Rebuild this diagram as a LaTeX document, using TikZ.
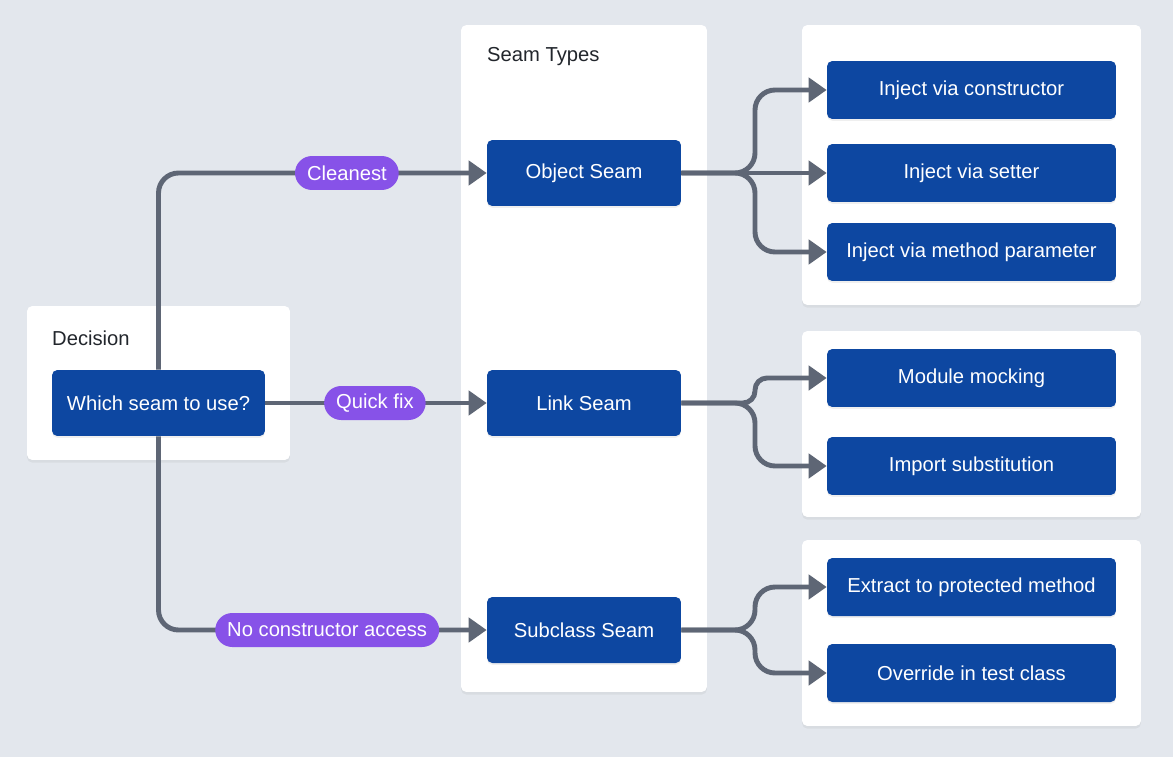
\documentclass[tikz,border=0pt]{standalone}
\usepackage{fontspec}
\setmainfont{Liberation Sans}
\usetikzlibrary{arrows.meta,shadows}
\definecolor{bgcol}{HTML}{E3E7ED}
\definecolor{seamblue}{HTML}{0D47A1}
\definecolor{pillpurple}{HTML}{8752E8}
\definecolor{linegray}{HTML}{5E6675}
\definecolor{titlegray}{HTML}{22262C}
\begin{document}
\begin{tikzpicture}[x=0.02cm, y=-0.02cm,
  panel/.style={rectangle, fill=white, rounded corners=3pt,
    drop shadow={opacity=0.10, shadow xshift=0pt, shadow yshift=-1.5pt}},
  title/.style={anchor=west, text=titlegray, font=\fontsize{11.5}{14}\selectfont},
  box/.style={rectangle, fill=seamblue, text=white, rounded corners=3pt,
    drop shadow={opacity=0.12, shadow xshift=0pt, shadow yshift=-1pt},
    font=\fontsize{11.5}{14}\selectfont},
  seambox/.style={box, minimum width=3.88cm, minimum height=1.32cm},
  optbox/.style={box, minimum width=5.78cm, minimum height=1.16cm},
  pill/.style={rectangle, fill=pillpurple, text=white, rounded corners=0.34cm,
    minimum height=0.68cm, inner xsep=0.24cm, font=\fontsize{11.5}{14}\selectfont},
  conn/.style={draw=linegray, line width=2.8pt, rounded corners=0.4cm,
    -{Triangle[length=0.36cm, width=0.48cm]}}
]
% background
\fill[bgcol] (0,0) rectangle (1173,757);

% panels
\node[panel, minimum width=5.26cm, minimum height=3.08cm] (decpanel) at (158.5,383) {};
\node[title] (dectitle) at (46,338) {Decision};
\node[panel, minimum width=4.92cm, minimum height=13.34cm] (seampanel) at (584,358.5) {};
\node[title] (seamtitle) at (481,57) {Seam Types};
\node[panel, minimum width=6.78cm, minimum height=5.6cm] (objpanel) at (971.5,165) {};
\node[panel, minimum width=6.78cm, minimum height=3.72cm] (linkpanel) at (971.5,424) {};
\node[panel, minimum width=6.78cm, minimum height=3.72cm] (subpanel) at (971.5,633) {};

% boxes
\node[box, minimum width=4.26cm, minimum height=1.32cm] (which) at (158.5,403) {Which seam to use?};
\node[seambox] (obj) at (584,173) {Object Seam};
\node[seambox] (link) at (584,403) {Link Seam};
\node[seambox] (sub) at (584,630) {Subclass Seam};

\node[optbox] (ctor) at (971.5,90) {Inject via constructor};
\node[optbox] (setter) at (971.5,173) {Inject via setter};
\node[optbox] (param) at (971.5,252) {Inject via method parameter};
\node[optbox] (mock) at (971.5,378) {Module mocking};
\node[optbox] (import) at (971.5,466) {Import substitution};
\node[optbox] (extract) at (971.5,587) {Extract to protected method};
\node[optbox] (override) at (971.5,673) {Override in test class};

% decision to seams
\draw[conn] (which.north) |- node[pill, pos=0.787] (cleanest) {Cleanest} (obj.west);
\draw[conn] (which.east) -- node[pill, pos=0.495] (quickfix) {Quick fix} (link.west);
\draw[conn] (which.south) |- node[pill, pos=0.757] (noctor) {No constructor access} (sub.west);

% seams to techniques
\coordinate (split) at (755,0);
\draw[conn] (obj.east) -| (split |- ctor.west) -- (ctor.west);
\draw[conn] (obj.east) -- (setter.west);
\draw[conn] (obj.east) -| (split |- param.west) -- (param.west);
\draw[conn, rounded corners=0.24cm] (link.east) -| (split |- mock.west) -- (mock.west);
\draw[conn] (link.east) -| (split |- import.west) -- (import.west);
\draw[conn] (sub.east) -| (split |- extract.west) -- (extract.west);
\draw[conn] (sub.east) -| (split |- override.west) -- (override.west);
\end{tikzpicture}
\end{document}
